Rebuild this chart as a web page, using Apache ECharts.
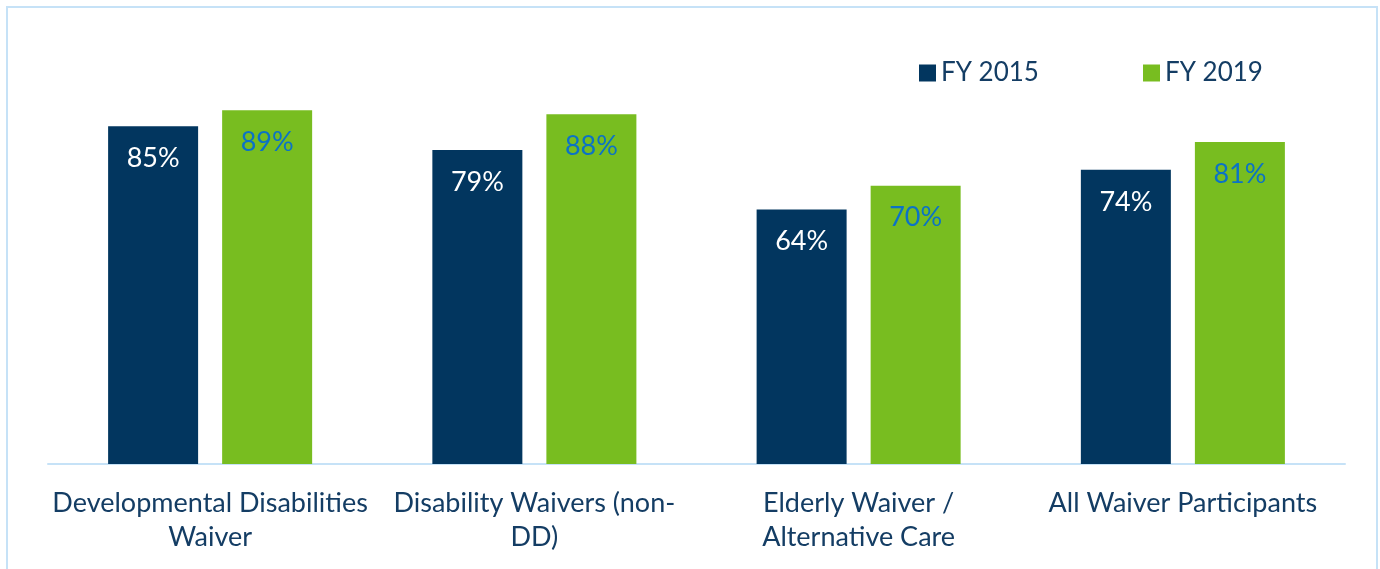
<!DOCTYPE html>
<html>
<head>
<meta charset="utf-8">
<style>
  html, body { margin: 0; padding: 0; background: #ffffff; }
  #chart { width: 1380px; height: 569px; }
</style>
<script src="https://cdn.jsdelivr.net/npm/echarts@6/dist/echarts.min.js"></script>
</head>
<body>
<div id="chart"></div>
<script>
// Waiver participation by program, FY 2015 vs FY 2019 (percent)
const categories = [
  'Developmental Disabilities\nWaiver',
  'Disability Waivers (non-\nDD)',
  'Elderly Waiver /\nAlternative Care',
  'All Waiver Participants'
];
const seriesNames = ['FY 2015', 'FY 2019'];
const fy2015 = [85, 79, 64, 74];
const fy2019 = [89, 88, 70, 81];

const NAVY = '#02365F';
const GREEN = '#78BD20';
const TEXT = '#143D64';
const FONT = 'Lato, "Open Sans", sans-serif';

const chart = echarts.init(document.getElementById('chart'), null, { renderer: 'canvas' });

function barSeries(name, data, color, labelColor) {
  return {
    name: name,
    type: 'bar',
    data: data,
    barWidth: 90,
    barGap: '26.7%',
    itemStyle: { color: color },
    label: {
      show: true,
      position: 'insideTop',
      distance: 17,
      formatter: '{c}%',
      color: labelColor,
      fontFamily: FONT,
      fontSize: 27,
      lineHeight: 30
    },
    emphasis: { disabled: true }
  };
}

function legendAt(name, left) {
  return {
    data: [name],
    left: left,
    top: 54,
    itemWidth: 17,
    itemHeight: 17,
    icon: 'rect',
    textStyle: {
      color: TEXT,
      fontFamily: FONT,
      fontSize: 26,
      lineHeight: 28,
      padding: [0, 0, 0, 0]
    }
  };
}

chart.setOption({
  animation: false,
  backgroundColor: '#ffffff',
  graphic: [{
    type: 'rect',
    shape: { x: 7, y: 7, width: 1370, height: 620 },
    style: { fill: 'none', stroke: '#C6E2F7', lineWidth: 2 },
    silent: true
  }],
  legend: [legendAt(seriesNames[0], 914), legendAt(seriesNames[1], 1138)],
  grid: { left: 48, right: 35, top: 66.5, bottom: 105, containLabel: false },
  xAxis: {
    type: 'category',
    data: categories,
    axisLine: { show: true, lineStyle: { color: '#C6E2F7', width: 2 } },
    axisTick: { show: false },
    axisLabel: {
      interval: 0,
      color: TEXT,
      fontFamily: FONT,
      fontSize: 27,
      lineHeight: 34,
      margin: 22
    }
  },
  yAxis: {
    type: 'value',
    min: 0,
    max: 100,
    show: false,
    splitLine: { show: false }
  },
  series: [
    barSeries(seriesNames[0], fy2015, NAVY, '#ffffff'),
    barSeries(seriesNames[1], fy2019, GREEN, '#0B72C6')
  ]
});
</script>
</body>
</html>
